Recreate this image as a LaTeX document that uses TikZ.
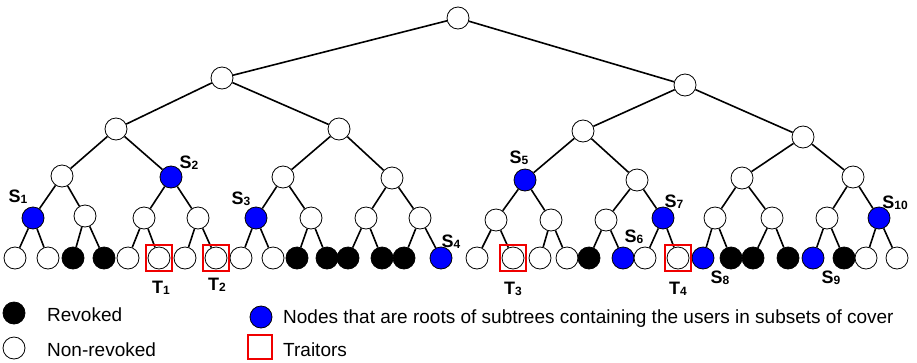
\documentclass[tikz,border=0pt]{standalone}
\usepackage{fontspec}
\setmainfont{Liberation Sans}
\definecolor{nodeblue}{RGB}{0,0,255}
\definecolor{traitred}{RGB}{240,0,0}
\newcommand\slab[2]{\fontsize{18}{18}\selectfont\textbf{#1}\raisebox{-1pt}{\fontsize{12}{12}\selectfont\textbf{#2}}}
\begin{document}
\begin{tikzpicture}[x=1pt,y=-1pt,
  tnode/.style={circle,draw=black,line width=0.8pt,minimum size=22pt,inner sep=0pt},
  wnode/.style={tnode,fill=white},
  knode/.style={tnode,fill=black},
  bnode/.style={tnode,fill=nodeblue},
  edge/.style={line width=1.6pt,black},
  traitor/.style={rectangle,draw=traitred,line width=2.2pt,minimum size=26pt,inner sep=0pt},
  lab/.style={inner sep=0pt},
  legtext/.style={inner sep=0pt,anchor=base west,font=\fontsize{19}{19}\selectfont}]
\useasboundingbox (0,0) rectangle (917,362);
% tree nodes, heap order
\foreach \i/\x/\y/\t in {
  1/458/18/wnode,
  2/222/78/wnode, 3/685/85/wnode,
  4/116/129/wnode, 5/339/129/wnode, 6/583/131/wnode, 7/803/137/wnode,
  8/62/176/wnode, 9/171/177/bnode, 10/283/177/wnode, 11/392/178/wnode,
  12/525/180/bnode, 13/637/180/wnode, 14/742/178/wnode, 15/853/177/wnode,
  16/33/218/bnode, 17/85/216/wnode, 18/144/218/wnode, 19/198/218/wnode,
  20/256/218/bnode, 21/311/218/wnode, 22/366/218/wnode, 23/420/218/wnode,
  24/496/220/wnode, 25/551/220/wnode, 26/606/220/wnode, 27/663/218/bnode,
  28/715/218/wnode, 29/772/218/wnode, 30/827/218/wnode, 31/879/218/bnode,
  32/15/258/wnode, 33/48/258/wnode, 34/73/258/knode, 35/104/258/knode,
  36/128/258/wnode, 37/159/258/wnode, 38/185/258/wnode, 39/216/258/wnode,
  40/241/258/wnode, 41/273/258/wnode, 42/297/258/knode, 43/327/258/knode,
  44/348/258/knode, 45/382/258/knode, 46/404/258/knode, 47/441/258/bnode,
  48/477/258/wnode, 49/513/258/wnode, 50/540/258/wnode, 51/567/258/wnode,
  52/589/258/knode, 53/623/258/bnode, 54/645/258/wnode, 55/678/258/wnode,
  56/703/258/bnode, 57/731/258/knode, 58/753/258/knode, 59/788/258/knode,
  60/813/258/bnode, 61/844/258/knode, 62/866/258/wnode, 63/897/258/wnode}
  \node[\t] (v\i) at (\x,\y) {};
% edges
\foreach \i in {1,...,31}{
  \pgfmathtruncatemacro\lc{2*\i}
  \pgfmathtruncatemacro\rc{2*\i+1}
  \draw[edge] (v\i) -- (v\lc);
  \draw[edge] (v\i) -- (v\rc);
}
% traitors
\node[traitor] (tr1) at (v37) {};
\node[traitor] (tr2) at (v39) {};
\node[traitor] (tr3) at (v49) {};
\node[traitor] (tr4) at (v55) {};
% labels
\node[lab] (s1) at (18,197) {\slab{S}{1}};
\node[lab] (s2) at (189,163) {\slab{S}{2}};
\node[lab] (s3) at (241,199) {\slab{S}{3}};
\node[lab] (s4) at (451,242) {\slab{S}{4}};
\node[lab] (s5) at (519,158) {\slab{S}{5}};
\node[lab] (s6) at (634,237) {\slab{S}{6}};
\node[lab] (s7) at (674,202) {\slab{S}{7}};
\node[lab] (s8) at (720,278) {\slab{S}{8}};
\node[lab] (s9) at (831,278) {\slab{S}{9}};
\node[lab] (s10) at (895,203) {\slab{S}{10}};
\node[lab] (t1) at (161,288) {\slab{T}{1}};
\node[lab] (t2) at (217,285) {\slab{T}{2}};
\node[lab] (t3) at (513,289) {\slab{T}{3}};
\node[lab] (t4) at (678,289) {\slab{T}{4}};
% legend
\node[knode] (lk) at (14,313) {};
\node[legtext] (lkt) at (47,321) {Revoked};
\node[wnode] (lw) at (14,348) {};
\node[legtext] (lwt) at (47,356) {Non-revoked};
\node[bnode] (lb) at (261,317) {};
\node[legtext] (lbt) at (283,323) {Nodes that are roots of subtrees containing the users in subsets of cover};
\node[traitor,minimum size=24pt] (lr) at (260,347) {};
\node[legtext] (lrt) at (283,356) {Traitors};
\end{tikzpicture}
\end{document}
